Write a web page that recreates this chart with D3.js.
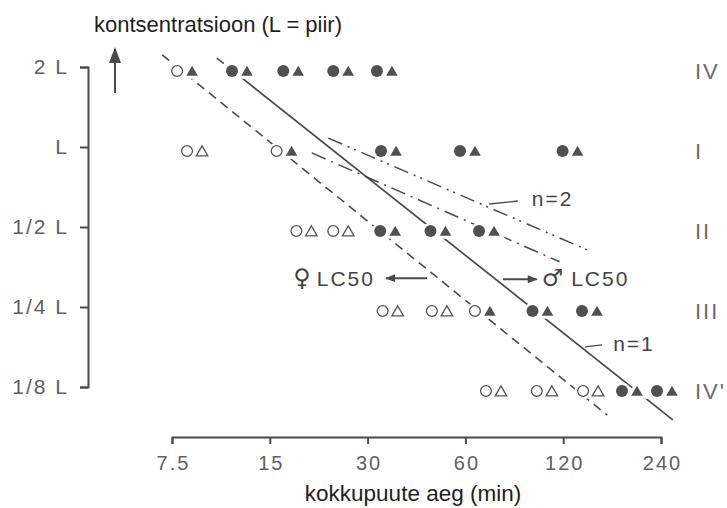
<!DOCTYPE html>
<html>
<head>
<meta charset="utf-8">
<script src="https://cdn.jsdelivr.net/npm/d3@7"></script>
<style>
  html, body { margin: 0; padding: 0; background: #fff; }
  svg { display: block; }
  text { font-family: "Liberation Sans", Arial, Helvetica, sans-serif; }
</style>
</head>
<body>
<svg id="chart" width="727" height="508"></svg>
<script>
// ---- data ---------------------------------------------------------------
// exposure time axis (min), log2 spaced
const timeTicks = [7.5, 15, 30, 60, 120, 240];
// concentration axis, multiples of the limit value L
const concTicks = [0.125, 0.25, 0.5, 1, 2];
const concLabels = ["1/8 L", "1/4 L", "1/2 L", "L", "2 L"];

// test series: name and concentration
const seriesNames = ["IV", "I", "II", "III", "IV'"];
const seriesConc = [2, 1, 0.5, 0.25, 0.125];

// observation times (min) for each series
const obsTimes = [
  [8.2, 12.1, 17.4, 24.8, 33.8],
  [8.8, 16.6, 34.8, 60.9, 126],
  [19.1, 24.8, 34.6, 49.4, 69.7],
  [35.2, 49.9, 67.7, 101.8, 144.6],
  [73.2, 105, 145.7, 192, 246]
];
// 1 = dead at that observation, 0 = alive (circle = female, triangle = male)
const femaleDead = [
  [0, 1, 1, 1, 1],
  [0, 0, 1, 1, 1],
  [0, 0, 1, 1, 1],
  [0, 0, 0, 1, 1],
  [0, 0, 0, 1, 1]
];
const maleDead = [
  [1, 1, 1, 1, 1],
  [0, 1, 1, 1, 1],
  [0, 0, 1, 1, 1],
  [0, 0, 1, 1, 1],
  [0, 0, 0, 1, 1]
];

// fitted LC50 lines [time, concentration]
const femaleLC50 = [[7.0, 2.22], [164, 0.098]];
const maleLC50 = [[12.3, 1.82], [261, 0.094]];
const maleLC50Ext = [[10.3, 2.16], [12.3, 1.82]];
// slope n = 2 lines
const slope2Upper = [[22.7, 1.08], [143, 0.409]];
const slope2Lower = [[20.2, 0.95], [117, 0.37]];

// annotation anchors [time, concentration]
const n2Leader = [[71, 0.61], [87, 0.626]];
const n2Anchor = [96, 0.643];
const n1Leader = [[140, 0.177], [158, 0.180]];
const n1Anchor = [171, 0.183];
const femaleArrow = [[45.7, 0.321], [34.2, 0.321]];
const femaleAnchor = [31.6, 0.321];
const maleArrow = [[78.3, 0.318], [99.5, 0.318]];
const maleAnchor = [103, 0.321];

// ---- drawing ------------------------------------------------------------
const svg = d3.select("#chart");
const ink = "#4a4a4a";
const labelInk = "#606060";
const font = '"Liberation Sans", Arial, Helvetica, sans-serif';
const symbolFont = '"DejaVu Sans", sans-serif';

const x = d3.scaleLog().base(2).domain([7.5, 240]).range([172, 661]);
const y = d3.scaleLog().base(2).domain([0.125, 2]).range([387, 67]);
const rowShift = 4; // symbols sit slightly below the tick line

const defs = svg.append("defs");
defs.append("marker")
  .attr("id", "head").attr("viewBox", "0 0 10 8")
  .attr("refX", 9).attr("refY", 4)
  .attr("markerUnits", "userSpaceOnUse")
  .attr("markerWidth", 11).attr("markerHeight", 8)
  .attr("orient", "auto")
  .append("path").attr("d", "M0,0 L10,4 L0,8 Z").attr("fill", ink);
defs.append("marker")
  .attr("id", "bighead").attr("viewBox", "0 0 16 12")
  .attr("refX", 14).attr("refY", 6)
  .attr("markerUnits", "userSpaceOnUse")
  .attr("markerWidth", 16).attr("markerHeight", 12)
  .attr("orient", "auto")
  .append("path").attr("d", "M0,0 L16,6 L0,12 Z").attr("fill", ink);

// x axis
const xAxis = d3.axisBottom(x)
  .tickValues(timeTicks)
  .tickFormat(d => String(d))
  .tickSizeInner(7).tickSizeOuter(7).tickPadding(12);
const gx = svg.append("g")
  .attr("transform", "translate(0,437)")
  .call(xAxis)
  .attr("font-family", font).attr("font-size", 20);
gx.select(".domain").attr("stroke", ink).attr("stroke-width", 2);
gx.selectAll(".tick line").attr("stroke", ink).attr("stroke-width", 2);
gx.selectAll(".tick text").attr("fill", labelInk)
  .attr("letter-spacing", "2px").attr("dx", 1);

// y axis
const yAxis = d3.axisLeft(y)
  .tickValues(concTicks)
  .tickFormat(d => concLabels[concTicks.indexOf(d)])
  .tickSizeInner(8).tickSizeOuter(8).tickPadding(11);
const gy = svg.append("g")
  .attr("transform", "translate(88,0)")
  .call(yAxis)
  .attr("font-family", font).attr("font-size", 21);
gy.select(".domain").attr("stroke", ink).attr("stroke-width", 2);
gy.selectAll(".tick line").attr("stroke", ink).attr("stroke-width", 2);
gy.selectAll(".tick text").attr("fill", labelInk).attr("letter-spacing", "2px");

// upward arrow beside the y axis
svg.append("line")
  .attr("x1", 115).attr("x2", 115).attr("y1", 93).attr("y2", 49)
  .attr("stroke", ink).attr("stroke-width", 2)
  .attr("marker-end", "url(#bighead)");

// axis titles
svg.append("text")
  .attr("x", 94).attr("y", 32)
  .attr("font-size", 22).attr("fill", "#1e1e1e")
  .text("kontsentratsioon (L = piir)");
svg.append("text")
  .attr("x", 413).attr("y", 501).attr("text-anchor", "middle")
  .attr("font-size", 22.5).attr("fill", "#1e1e1e")
  .text("kokkupuute aeg (min)");

// fitted lines
const line = d3.line().x(d => x(d[0])).y(d => y(d[1]));
const linesG = svg.append("g").attr("fill", "none").attr("stroke", ink);
linesG.append("path").datum(femaleLC50).attr("d", line)
  .attr("stroke-width", 1.6).attr("stroke-dasharray", "9,6");
linesG.append("path").datum(maleLC50Ext).attr("d", line)
  .attr("stroke-width", 1.6).attr("stroke-dasharray", "9,6");
linesG.append("path").datum(maleLC50).attr("d", line)
  .attr("stroke-width", 1.7);
linesG.append("path").datum(slope2Upper).attr("d", line)
  .attr("stroke-width", 1.5).attr("stroke-dasharray", "15,6,2,5,2,6");
linesG.append("path").datum(slope2Lower).attr("d", line)
  .attr("stroke-width", 1.5).attr("stroke-dasharray", "15,6,2,6");

// observation symbols
const obs = [];
obsTimes.forEach((row, i) => row.forEach((t, j) => {
  obs.push({ t, c: seriesConc[i], f: femaleDead[i][j], m: maleDead[i][j] });
}));
const tri = d3.symbol(d3.symbolTriangle, 58)();
const symG = svg.append("g");
const pair = symG.selectAll("g.obs").data(obs).join("g")
  .attr("class", "obs")
  .attr("transform", d => `translate(${x(d.t)},${y(d.c) + rowShift})`);
// white halo so the lines break around the symbols
pair.append("circle").attr("cx", -7.5).attr("r", 5.6)
  .attr("fill", "#fff").attr("stroke", "#fff").attr("stroke-width", 6);
pair.append("path").attr("d", tri).attr("transform", "translate(7.5,1.5)")
  .attr("fill", "#fff").attr("stroke", "#fff").attr("stroke-width", 6);
pair.append("circle").attr("cx", -7.5).attr("r", d => d.f ? 6 : 5.4)
  .attr("fill", d => d.f ? "#505050" : "#fff")
  .attr("stroke", d => d.f ? "none" : "#555")
  .attr("stroke-width", 1.3);
pair.append("path").attr("d", tri).attr("transform", "translate(7.5,1.5)")
  .attr("fill", d => d.m ? "#505050" : "#fff")
  .attr("stroke", d => d.m ? "none" : "#555")
  .attr("stroke-width", 1.3);

// series names on the right
svg.append("g").selectAll("text").data(seriesNames).join("text")
  .attr("x", x(240) + 34)
  .attr("y", (d, i) => y(seriesConc[i]) + rowShift)
  .attr("dy", "0.36em")
  .attr("font-size", 22).attr("letter-spacing", "2px")
  .attr("fill", "#6a6a6a")
  .text(d => d);

// annotations
const ann = svg.append("g").attr("fill", "#444");
ann.append("path").datum(n2Leader).attr("d", line)
  .attr("fill", "none").attr("stroke", ink).attr("stroke-width", 1.4);
ann.append("text").attr("x", x(n2Anchor[0])).attr("y", y(n2Anchor[1]))
  .attr("dy", "0.36em").attr("font-size", 21).attr("letter-spacing", "2px")
  .text("n=2");
ann.append("path").datum(n1Leader).attr("d", line)
  .attr("fill", "none").attr("stroke", ink).attr("stroke-width", 1.4);
ann.append("text").attr("x", x(n1Anchor[0])).attr("y", y(n1Anchor[1]))
  .attr("dy", "0.36em").attr("font-size", 21).attr("letter-spacing", "2px")
  .text("n=1");

ann.append("path").datum(femaleArrow).attr("d", line)
  .attr("fill", "none").attr("stroke", ink).attr("stroke-width", 2)
  .attr("marker-end", "url(#head)");
const fLab = ann.append("text").attr("x", x(femaleAnchor[0])).attr("y", y(femaleAnchor[1]))
  .attr("dy", "0.36em").attr("text-anchor", "end")
  .attr("font-size", 21).attr("letter-spacing", "2px");
fLab.append("tspan").attr("font-family", symbolFont).attr("font-size", 24)
  .attr("letter-spacing", "0px").text("\u2640");
fLab.append("tspan").attr("dx", 6).text("LC50");

ann.append("path").datum(maleArrow).attr("d", line)
  .attr("fill", "none").attr("stroke", ink).attr("stroke-width", 2)
  .attr("marker-end", "url(#head)");
const mLab = ann.append("text").attr("x", x(maleAnchor[0])).attr("y", y(maleAnchor[1]))
  .attr("dy", "0.36em")
  .attr("font-size", 21).attr("letter-spacing", "2px");
mLab.append("tspan").attr("font-family", symbolFont).attr("font-size", 24)
  .attr("letter-spacing", "0px").text("\u2642");
mLab.append("tspan").attr("dx", 8).text("LC50");
</script>
</body>
</html>
